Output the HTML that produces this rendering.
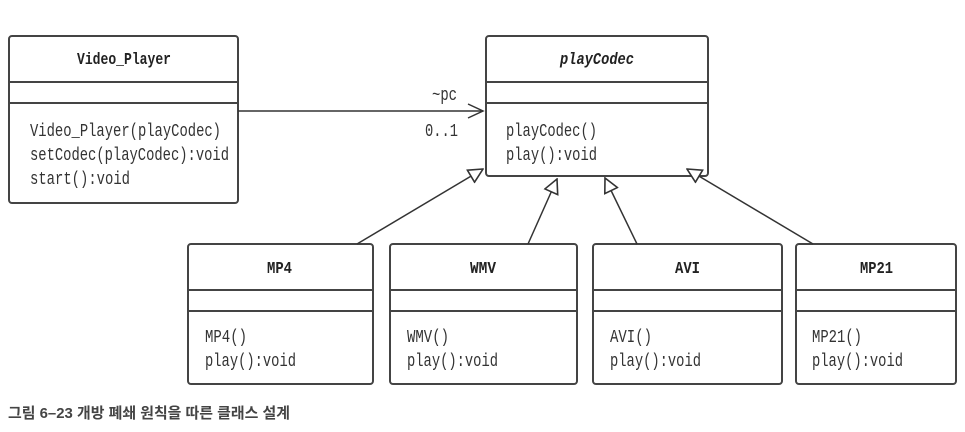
<!DOCTYPE html>
<html><head><meta charset="utf-8"><style>
html,body{margin:0;padding:0;background:#fff;}
svg{display:block}
.m{font-family:"Liberation Mono",monospace;font-size:18px;fill:#333}
.b{font-family:"Liberation Mono",monospace;font-size:17px;font-weight:bold;fill:#222}
.c{font-family:"Liberation Sans","Noto Sans CJK KR",sans-serif;font-size:15px;fill:#444;font-weight:bold}
</style></head><body>
<svg width="965" height="432" viewBox="0 0 965 432" xmlns="http://www.w3.org/2000/svg">
<defs>
<marker id="tri" viewBox="0 0 16 16" refX="15" refY="8" markerWidth="16" markerHeight="16" markerUnits="userSpaceOnUse" orient="auto">
<path d="M1,1 L15,8 L1,15 Z" fill="#fff" stroke="#333" stroke-width="1.6"/>
</marker>
</defs>
<g fill="#fff" stroke="#444" stroke-width="2">
<rect x="9" y="36" width="229" height="167" rx="3"/>
<line x1="9" y1="82" x2="238" y2="82"/><line x1="9" y1="103" x2="238" y2="103"/>
<rect x="486" y="36" width="222" height="140" rx="3"/>
<line x1="486" y1="82" x2="708" y2="82"/><line x1="486" y1="103" x2="708" y2="103"/>
<rect x="188" y="244" width="185" height="140" rx="3"/>
<rect x="390" y="244" width="187" height="140" rx="3"/>
<rect x="593" y="244" width="189" height="140" rx="3"/>
<rect x="796" y="244" width="160" height="140" rx="3"/>
<line x1="188" y1="290" x2="373" y2="290"/><line x1="188" y1="311" x2="373" y2="311"/>
<line x1="390" y1="290" x2="577" y2="290"/><line x1="390" y1="311" x2="577" y2="311"/>
<line x1="593" y1="290" x2="782" y2="290"/><line x1="593" y1="311" x2="782" y2="311"/>
<line x1="796" y1="290" x2="956" y2="290"/><line x1="796" y1="311" x2="956" y2="311"/>
</g>
<g stroke="#333" stroke-width="1.5" fill="none">
<line x1="238" y1="111" x2="483" y2="111"/>
<polyline points="468,104 483,111 468,118"/>
<line x1="357" y1="244" x2="483" y2="169" marker-end="url(#tri)"/>
<line x1="528" y1="244" x2="557" y2="179" marker-end="url(#tri)"/>
<line x1="637" y1="244" x2="605" y2="178" marker-end="url(#tri)"/>
<line x1="813" y1="244" x2="687" y2="169" marker-end="url(#tri)"/>
</g>
<text class="b" x="77" y="64" textLength="94" lengthAdjust="spacingAndGlyphs">Video_Player</text>
<text class="b" x="560" y="64" textLength="74" lengthAdjust="spacingAndGlyphs" font-style="italic">playCodec</text>
<text class="m" x="30" y="136" textLength="191" lengthAdjust="spacingAndGlyphs">Video_Player(playCodec)</text>
<text class="m" x="30" y="160" textLength="199" lengthAdjust="spacingAndGlyphs">setCodec(playCodec):void</text>
<text class="m" x="30" y="184" textLength="100" lengthAdjust="spacingAndGlyphs">start():void</text>
<text class="m" x="432" y="100" textLength="25" lengthAdjust="spacingAndGlyphs">~pc</text>
<text class="m" x="425" y="136" textLength="33" lengthAdjust="spacingAndGlyphs">0..1</text>
<text class="m" x="506" y="136" textLength="91" lengthAdjust="spacingAndGlyphs">playCodec()</text>
<text class="m" x="506" y="160" textLength="91" lengthAdjust="spacingAndGlyphs">play():void</text>
<text class="b" x="267" y="273" textLength="25" lengthAdjust="spacingAndGlyphs">MP4</text>
<text class="b" x="470" y="273" textLength="26" lengthAdjust="spacingAndGlyphs">WMV</text>
<text class="b" x="675" y="273" textLength="25" lengthAdjust="spacingAndGlyphs">AVI</text>
<text class="b" x="860" y="273" textLength="33" lengthAdjust="spacingAndGlyphs">MP21</text>
<text class="m" x="205" y="342" textLength="42" lengthAdjust="spacingAndGlyphs">MP4()</text><text class="m" x="205" y="366" textLength="91" lengthAdjust="spacingAndGlyphs">play():void</text>
<text class="m" x="407" y="342" textLength="42" lengthAdjust="spacingAndGlyphs">WMV()</text><text class="m" x="407" y="366" textLength="91" lengthAdjust="spacingAndGlyphs">play():void</text>
<text class="m" x="610" y="342" textLength="42" lengthAdjust="spacingAndGlyphs">AVI()</text><text class="m" x="610" y="366" textLength="91" lengthAdjust="spacingAndGlyphs">play():void</text>
<text class="m" x="812" y="342" textLength="50" lengthAdjust="spacingAndGlyphs">MP21()</text><text class="m" x="812" y="366" textLength="91" lengthAdjust="spacingAndGlyphs">play():void</text>
<text class="c" x="8" y="418" textLength="282" lengthAdjust="spacingAndGlyphs">그림 6–23  개방 폐쇄 원칙을 따른 클래스 설계</text>
</svg>
</body></html>
